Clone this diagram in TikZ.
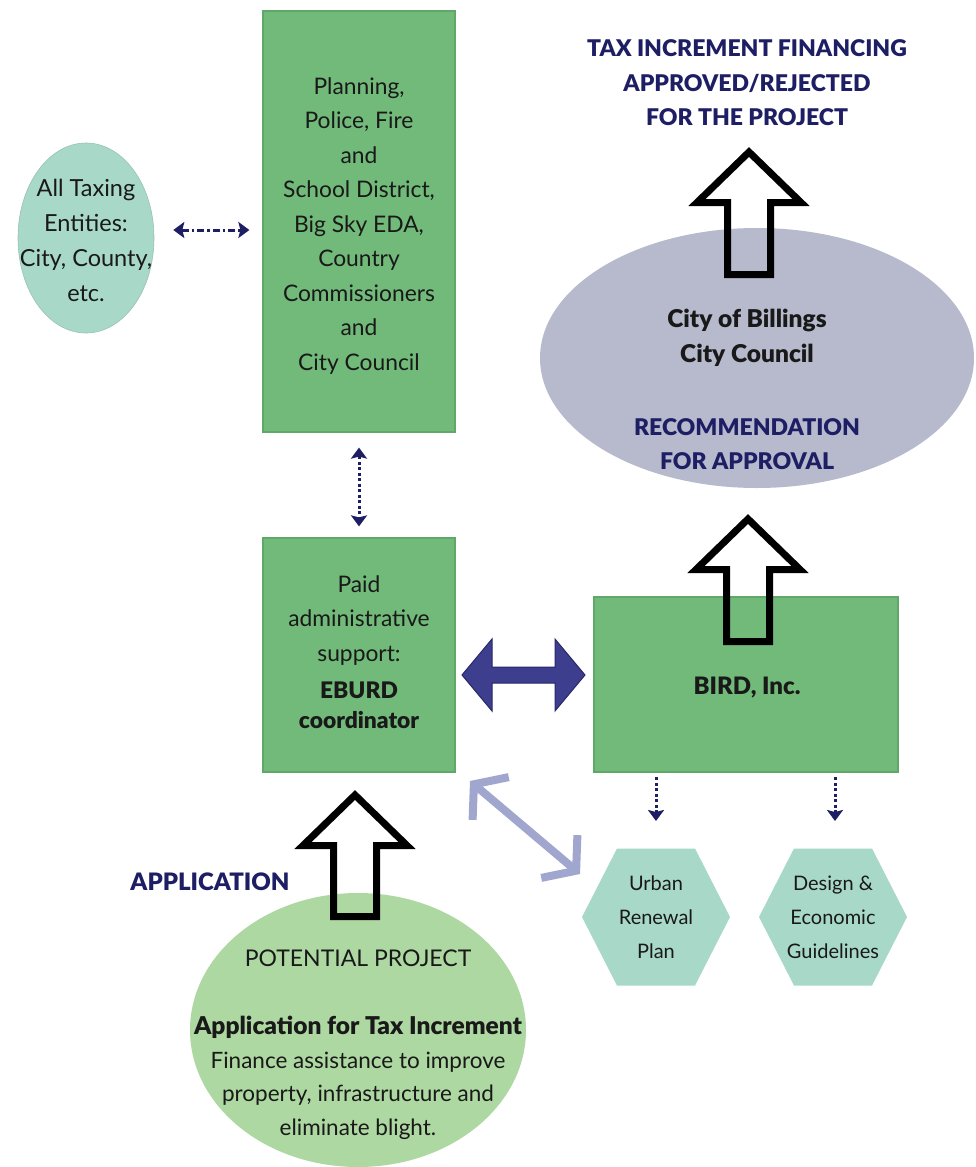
\documentclass[tikz,border=0pt]{standalone}
\usepackage{fontspec}
\setmainfont{Lato}[BoldFont={Lato Black}]
\usetikzlibrary{shapes.geometric,arrows.meta,calc}
\definecolor{boxgreen}{RGB}{114,186,122}
\definecolor{boxgreenline}{RGB}{96,168,106}
\definecolor{tealfill}{RGB}{168,216,200}
\definecolor{grayfill}{RGB}{182,186,204}
\definecolor{lightgreen}{RGB}{174,216,162}
\definecolor{navy}{RGB}{30,30,100}
\definecolor{navyarrow}{RGB}{62,62,142}
\definecolor{navyline}{RGB}{40,40,105}
\definecolor{lightarrow}{RGB}{160,166,206}
\definecolor{txt}{RGB}{25,25,25}
\newcommand{\hollowup}[3]{%
  \draw[hollow] ({#1-21.5},{#3-3.5}) -- ({#1-21.5},{#2+55.5}) -- ({#1-52},{#2+55.5})
    -- (#1,{#2+5}) -- ({#1+52},{#2+55.5}) -- ({#1+21.5},{#2+55.5}) -- ({#1+21.5},{#3-3.5}) -- cycle;}
\begin{document}
\begin{tikzpicture}[x=1pt,y=-1pt,
  greenbox/.style={draw=boxgreenline, line width=1.2pt, fill=boxgreen, inner sep=0pt},
  txtnode/.style={text=txt, align=center, inner sep=0pt, font=\fontsize{22.8}{34.5}\selectfont},
  boldtxt/.style={text=txt, align=center, inner sep=0pt, font=\fontsize{24}{35}\selectfont\bfseries},
  navytxt/.style={text=navy, align=center, inner sep=0pt, font=\fontsize{23}{34.5}\selectfont\bfseries},
  hollow/.style={draw=black, line width=7pt, line join=miter},
  dotarrow/.style={draw=navy, line width=3pt, dash pattern=on 3pt off 2.5pt,
    {Stealth[length=11pt,width=16pt,inset=2pt]}-{Stealth[length=11pt,width=16pt,inset=2pt]}},
  downarrow/.style={draw=navy, line width=3pt, dash pattern=on 3pt off 2.5pt,
    -{Stealth[length=11pt,width=16pt,inset=2pt]}},
  lightarr/.style={draw=lightarrow, line width=8pt,
    {Straight Barb[length=22pt,width=56pt,line width=8pt]}-{Straight Barb[length=22pt,width=56pt,line width=8pt]}},
]
\useasboundingbox (0,0) rectangle (976,1167);
\fill[white] (0,0) rectangle (976,1167);

% shapes
\node[ellipse, fill=tealfill, draw=tealfill!90!black, line width=0.6pt, minimum width=136pt, minimum height=190pt, inner sep=0pt] (tax) at (86,238) {};
\node[greenbox, minimum width=192pt, minimum height=421pt] (plan) at (359,221.5) {};
\node[greenbox, minimum width=192pt, minimum height=234pt] (ebur) at (359,655) {};
\node[greenbox, minimum width=304pt, minimum height=175pt] (bird) at (746,684.5) {};
\node[ellipse, fill=grayfill, minimum width=434pt, minimum height=260pt, inner sep=0pt] (city) at (757,358) {};
\node[ellipse, fill=lightgreen, minimum width=336pt, minimum height=274pt, inner sep=0pt] (proj) at (358,1030) {};

% hexagons
\coordinate (urb) at (656,917);
\coordinate (des) at (833,917);
\foreach \c in {urb,des}{
  \fill[tealfill] ($(\c)+(-74,0)$) -- ($(\c)+(-39,-68.5)$) -- ($(\c)+(39,-68.5)$) -- ($(\c)+(74,0)$)
     -- ($(\c)+(39,68.5)$) -- ($(\c)+(-39,68.5)$) -- cycle;
}

% texts
\node[txtnode, font=\fontsize{23.5}{35}\selectfont] (taxt) at (86,240) {All Taxing\\Entities:\\City, County,\\etc.};
\node[txtnode] (plant) at (359,226) {Planning,\\Police, Fire\\and\\School District,\\Big Sky EDA,\\Country\\Commissioners\\and\\City Council};
\node[txtnode] (ebt) at (359,652) {Paid\\administrative\\support:\\[3pt]\textbf{EBURD}\\[-5pt]\textbf{coordinator}};
\node[boldtxt] (birdt) at (747,688) {BIRD, Inc.};
\node[boldtxt, font=\fontsize{24.5}{35}\selectfont\bfseries] (cityt) at (747,338) {City of Billings\\City Council};
\node[navytxt] (reco) at (747,444) {RECOMMENDATION\\FOR APPROVAL};
\node[navytxt] (title) at (747,83) {TAX INCREMENT FINANCING\\APPROVED/REJECTED\\FOR THE PROJECT};
\node[navytxt, font=\fontsize{24}{34}\selectfont\bfseries] (appl) at (210,882) {APPLICATION};
\node[txtnode, font=\fontsize{23}{34}\selectfont] (pot) at (358,958) {POTENTIAL PROJECT};
\node[txtnode, font=\fontsize{22.5}{33.5}\selectfont] (projt) at (358,1078) {{\fontsize{24.5}{33.5}\selectfont\textbf{Application for Tax Increment}}\\Finance assistance to improve\\property, infrastructure and\\eliminate blight.};
\node[txtnode, font=\fontsize{20}{34}\selectfont] (urbt) at (urb) {Urban\\Renewal\\Plan};
\node[txtnode, font=\fontsize{20}{34}\selectfont] (dest) at (des) {Design \&\\Economic\\Guidelines};

% hollow arrows
\hollowup{749}{147}{278}
\hollowup{748}{514}{645}
\hollowup{355}{790}{920}

% dotted connectors
\draw[dotarrow, dash pattern=on 7pt off 3pt on 2.5pt off 3pt] ($(tax.east)+(19,-8)$) coordinate (h1) -- ($(plan.west)+(-13,8.5)$) coordinate (h2);
\draw[dotarrow] ($(plan.south)+(0,15)$) coordinate (v1) -- ($(ebur.north)+(0,-11)$) coordinate (v2);
\coordinate (d1) at (656,777);
\coordinate (d2) at (656,821);
\coordinate (d3) at (835,777);
\coordinate (d4) at (835,821);
\draw[downarrow] (d1) -- (d2);
\draw[downarrow] (d3) -- (d4);

% thick navy double arrow
\coordinate (dl) at (462,675);
\coordinate (dr) at (585,675);
\draw[fill=navyarrow, draw=navyline, line width=1pt, line join=miter]
  (dl) -- ($(dl)+(30,-36)$) -- ($(dl)+(30,-8)$) -- ($(dr)+(-30,-8)$) -- ($(dr)+(-30,-36)$) -- (dr)
  -- ($(dr)+(-30,36)$) -- ($(dr)+(-30,8)$) -- ($(dl)+(30,8)$) -- ($(dl)+(30,36)$) -- cycle;

% light diagonal double arrow
\coordinate (la1) at (470,781);
\coordinate (la2) at (580,874);
\draw[lightarr] (la1) -- (la2);
\end{tikzpicture}
\end{document}
